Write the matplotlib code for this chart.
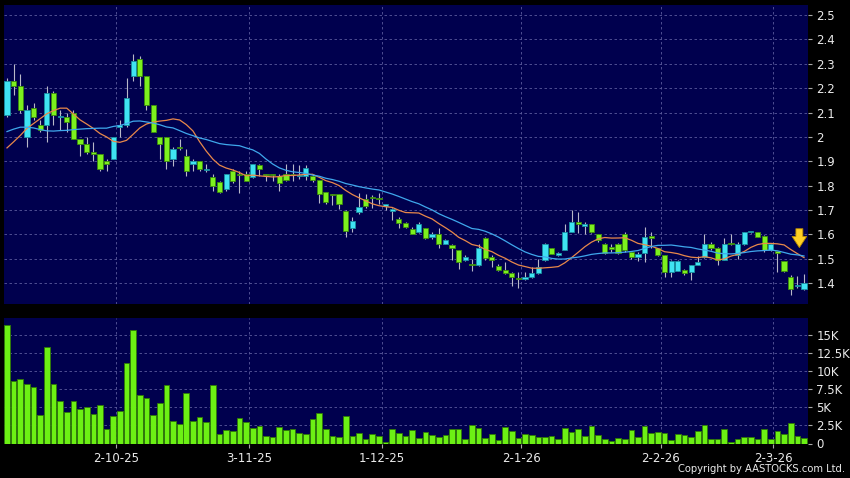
import numpy as np
import pandas as pd
import matplotlib
matplotlib.use('Agg')
import matplotlib.pyplot as plt

# daily bars, oldest first
opens = [
    2.09, 2.23, 2.21, 2.00, 2.12, 2.05, 2.05, 2.18, 2.08, 2.08,
    2.10, 1.99, 1.97, 1.94, 1.93, 1.90, 1.91, 2.04, 2.05, 2.25,
    2.32, 2.25, 2.13, 2.00, 2.00, 1.91, 1.96, 1.92, 1.89, 1.90,
    1.865, 1.835, 1.815, 1.785, 1.86, 1.85, 1.85, 1.835, 1.885, 1.848,
    1.85, 1.84, 1.848, 1.848, 1.838, 1.84, 1.841, 1.823, 1.773, 1.765,
    1.765, 1.696, 1.625, 1.694, 1.744, 1.752, 1.748, 1.717, 1.696, 1.662,
    1.646, 1.621, 1.611, 1.625, 1.588, 1.604, 1.563, 1.556, 1.536, 1.495,
    1.475, 1.475, 1.584, 1.509, 1.47, 1.454, 1.443, 1.42, 1.416, 1.424,
    1.443, 1.495, 1.543, 1.516, 1.536, 1.611, 1.652, 1.635, 1.645, 1.604,
    1.563, 1.55, 1.563, 1.604, 1.529, 1.506, 1.525, 1.593, 1.543, 1.516,
    1.447, 1.451, 1.454, 1.447, 1.475, 1.509, 1.563, 1.543, 1.495, 1.563,
    1.516, 1.563, 1.609, 1.611, 1.593, 1.536, 1.533, 1.492, 1.424, 1.39,
    1.375]
highs = [
    2.24, 2.30, 2.26, 2.13, 2.14, 2.07, 2.21, 2.19, 2.11, 2.10,
    2.11, 1.99, 2.00, 1.98, 1.93, 1.91, 2.00, 2.07, 2.24, 2.34,
    2.33, 2.25, 2.13, 2.00, 2.00, 1.96, 1.99, 1.95, 1.91, 1.90,
    1.89, 1.85, 1.82, 1.85, 1.87, 1.86, 1.86, 1.89, 1.89, 1.85,
    1.85, 1.85, 1.89, 1.89, 1.885, 1.885, 1.85, 1.823, 1.776, 1.765,
    1.765, 1.70, 1.673, 1.77, 1.766, 1.76, 1.77, 1.725, 1.707, 1.673,
    1.652, 1.63, 1.65, 1.625, 1.61, 1.625, 1.58, 1.56, 1.536, 1.515,
    1.50, 1.563, 1.59, 1.515, 1.48, 1.488, 1.447, 1.447, 1.447, 1.465,
    1.50, 1.565, 1.545, 1.53, 1.645, 1.70, 1.693, 1.65, 1.645, 1.604,
    1.565, 1.56, 1.565, 1.61, 1.53, 1.53, 1.632, 1.61, 1.543, 1.516,
    1.495, 1.495, 1.46, 1.475, 1.51, 1.604, 1.57, 1.55, 1.584, 1.604,
    1.57, 1.611, 1.612, 1.611, 1.597, 1.566, 1.533, 1.492, 1.434, 1.43,
    1.437]
lows = [
    2.08, 2.17, 2.10, 1.96, 2.07, 2.02, 1.98, 2.05, 2.03, 2.02,
    1.99, 1.92, 1.93, 1.90, 1.86, 1.86, 1.91, 2.00, 2.04, 2.23,
    2.21, 2.11, 2.02, 1.91, 1.87, 1.88, 1.945, 1.84, 1.86, 1.86,
    1.855, 1.78, 1.77, 1.78, 1.81, 1.77, 1.82, 1.83, 1.84, 1.82,
    1.82, 1.78, 1.82, 1.82, 1.826, 1.823, 1.816, 1.73, 1.727, 1.72,
    1.703, 1.59, 1.612, 1.684, 1.707, 1.71, 1.725, 1.70, 1.66, 1.627,
    1.627, 1.60, 1.605, 1.58, 1.58, 1.545, 1.56, 1.495, 1.46, 1.49,
    1.45, 1.47, 1.495, 1.468, 1.45, 1.44, 1.39, 1.38, 1.415, 1.42,
    1.44, 1.49, 1.52, 1.51, 1.535, 1.61, 1.605, 1.60, 1.605, 1.57,
    1.52, 1.53, 1.52, 1.53, 1.50, 1.49, 1.488, 1.543, 1.51, 1.424,
    1.424, 1.45, 1.435, 1.413, 1.475, 1.505, 1.536, 1.475, 1.495, 1.556,
    1.50, 1.555, 1.605, 1.588, 1.53, 1.533, 1.447, 1.447, 1.35, 1.38,
    1.373]
closes = [
    2.23, 2.21, 2.11, 2.11, 2.08, 2.03, 2.18, 2.09, 2.08, 2.06,
    1.99, 1.97, 1.94, 1.93, 1.87, 1.89, 2.00, 2.05, 2.16, 2.31,
    2.25, 2.13, 2.02, 1.97, 1.90, 1.95, 1.955, 1.86, 1.90, 1.87,
    1.865, 1.80, 1.775, 1.85, 1.82, 1.845, 1.82, 1.89, 1.87, 1.845,
    1.845, 1.813, 1.823, 1.846, 1.844, 1.871, 1.823, 1.766, 1.732, 1.763,
    1.724, 1.614, 1.655, 1.714, 1.717, 1.75, 1.746, 1.724, 1.703, 1.646,
    1.632, 1.604, 1.645, 1.584, 1.604, 1.563, 1.577, 1.543, 1.488, 1.509,
    1.473, 1.543, 1.502, 1.495, 1.454, 1.443, 1.424, 1.418, 1.424, 1.443,
    1.468, 1.563, 1.522, 1.525, 1.611, 1.652, 1.645, 1.645, 1.611, 1.577,
    1.525, 1.54, 1.525, 1.536, 1.509, 1.522, 1.59, 1.584, 1.516, 1.447,
    1.492, 1.492, 1.443, 1.475, 1.488, 1.563, 1.543, 1.495, 1.563, 1.56,
    1.563, 1.611, 1.611, 1.59, 1.536, 1.563, 1.525, 1.451, 1.375, 1.39,
    1.402]
volume = [
    16340, 8655, 8886, 8195, 7827, 3960, 13260, 8195, 5893, 4282,
    5893, 4696, 4972, 4005, 5249, 1934, 3775, 4512, 11050, 15654,
    6722, 6261, 3960, 5525, 8057, 3039, 2716, 6906, 3039, 3591,
    2900, 8011, 1243, 1842, 1703, 3453, 2900, 2072, 2440, 1013,
    921, 2210, 1842, 1934, 1473, 1289, 3315, 4144, 1980, 1013,
    875, 3821, 1013, 1381, 599, 1335, 1059, 230, 1980, 1450,
    1030, 1910, 806, 1630, 1200, 875, 1151, 2026, 1934, 599,
    2486, 2118, 737, 1243, 460, 2210, 1750, 737, 1243, 1105,
    875, 829, 1059, 599, 2072, 1565, 1934, 1059, 2394, 1151,
    552, 276, 737, 599, 1796, 829, 2394, 1473, 1519, 1427,
    460, 1335, 1197, 829, 1703, 2486, 599, 552, 1980, 138,
    552, 829, 875, 599, 1934, 552, 1703, 1289, 2808, 967,
    691]

# moving average values before a full window exists
ma10_head = [1.955, 1.98, 2.006, 2.035, 2.055, 2.075, 2.095, 2.108, 2.118]
ma20_head = [2.022, 2.032, 2.04, 2.04, 2.037, 2.03, 2.025, 2.024, 2.026, 2.027,
             2.03, 2.032, 2.034, 2.035, 2.036, 2.036, 2.043, 2.047, 2.055]

tick_idx = [16, 36, 56, 77, 98, 115]
tick_labels = ['2-10-25', '3-11-25', '1-12-25', '2-1-26', '2-2-26', '2-3-26']
price_ticks = [1.4, 1.5, 1.6, 1.7, 1.8, 1.9, 2.0, 2.1, 2.2, 2.3, 2.4, 2.5]
price_labels = ['1.4', '1.5', '1.6', '1.7', '1.8', '1.9', '2', '2.1', '2.2', '2.3', '2.4', '2.5']
vol_ticks = [0, 2500, 5000, 7500, 10000, 12500, 15000]
vol_labels = ['0', '2.5K', '5K', '7.5K', '10K', '12.5K', '15K']

n = len(closes)
x = np.arange(n)
o = np.array(opens); c = np.array(closes)
h = np.array(highs); l = np.array(lows)

ma10 = pd.Series(closes).rolling(10).mean().to_numpy()
ma10[:len(ma10_head)] = ma10_head
ma20 = pd.Series(closes).rolling(20).mean().to_numpy()
ma20[:len(ma20_head)] = ma20_head

NAVY = '#00004e'
GRID = '#5a5a9c'
TXT = '#eaeaea'
UP = '#3fe3f2'
UP_EDGE = '#1a8fa0'
DN = '#7cf01e'
DN_EDGE = '#3c8c0c'

fig = plt.figure(figsize=(8.5, 4.78), dpi=100, facecolor='black')
ax1 = fig.add_axes([4/850, 1-304/478, 804/850, 299/478])
ax2 = fig.add_axes([4/850, 1-443.5/478, 804/850, 125.5/478])

xlim = (-0.45, 120.6)
tick_pos = [t + 0.4 for t in tick_idx]

for ax in (ax1, ax2):
    ax.set_facecolor(NAVY)
    ax.set_xlim(*xlim)
    for s in ax.spines.values():
        s.set_visible(False)
    ax.set_axisbelow(True)
    ax.grid(True, color=GRID, ls=(0, (3, 3)), lw=0.6)
    ax.yaxis.tick_right()
    ax.tick_params(axis='y', colors='#a8a8a8', labelcolor=TXT, length=3,
                   width=0.8, labelsize=8.5, pad=3)
    ax.set_xticks(tick_pos)

# candles
ax1.vlines(x, l, h, color='#b8b8c8', lw=0.8, zorder=2)
up = c >= o
body = np.maximum(np.abs(c - o), 0.004)
bottom = np.minimum(o, c)
ax1.bar(x[up], body[up], bottom=bottom[up], width=0.78, color=UP,
        edgecolor=UP_EDGE, lw=0.6, zorder=3)
ax1.bar(x[~up], body[~up], bottom=bottom[~up], width=0.78, color=DN,
        edgecolor=DN_EDGE, lw=0.6, zorder=3)

ax1.plot(x, ma10, color='#e8884a', lw=0.9, zorder=4)
ax1.plot(x, ma20, color='#3fa8ec', lw=0.9, zorder=4)

ax1.annotate('', xy=(119.3, 1.535), xytext=(119.3, 1.635),
             arrowprops=dict(arrowstyle='simple,head_length=0.8,head_width=1.05,tail_width=0.5',
                             fc='#ffd024', ec='#b88a00', lw=0.6), zorder=6)

ax1.set_ylim(1.315, 2.541)
ax1.set_yticks(price_ticks)
ax1.set_yticklabels(price_labels)
ax1.tick_params(axis='x', length=0, labelbottom=False)

# volume
ax2.bar(x, volume, width=0.85, color='#6cf014', edgecolor='#2f7a06', lw=0.6, zorder=3)
ax2.set_ylim(0, 17300)
ax2.set_yticks(vol_ticks)
ax2.set_yticklabels(vol_labels)
ax2.set_xticklabels(tick_labels)
ax2.tick_params(axis='x', colors='#a8a8a8', labelcolor=TXT, length=3,
                width=0.8, labelsize=8.5, pad=3)

fig.text(0.994, 0.008, 'Copyright by AASTOCKS.com Ltd.', ha='right', va='bottom',
         fontsize=7.2, color=TXT)

fig.savefig('out.png', dpi=100, facecolor='black')
